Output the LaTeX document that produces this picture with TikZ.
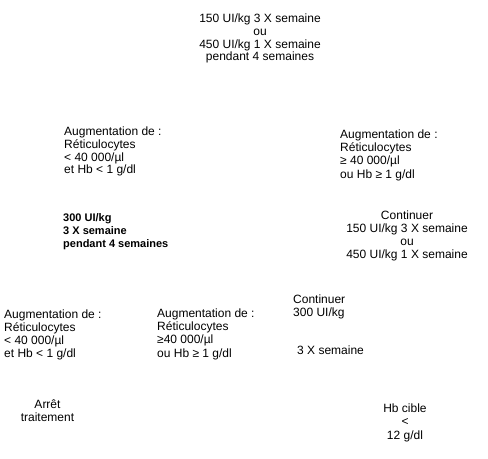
\documentclass[tikz,border=0pt]{standalone}
\usepackage{fontspec}
\setmainfont{Liberation Sans}
\usetikzlibrary{positioning}
\tikzset{
    %Define style for text blocks
    annot/.style={
           inner sep=0pt,
           font=\fontsize{12bp}{12.8bp}\selectfont,
           align=left,
           anchor=base west},
    annotc/.style={
           annot,
           align=center,
           anchor=base},
    dose/.style={
           annot,
           font=\fontsize{11bp}{12.5bp}\selectfont\bfseries}
}
\begin{document}
\begin{tikzpicture}[x=1bp,y=-1bp]
  \useasboundingbox (0,0) rectangle (488,459);

  \node[annotc] (dose-init) at (260,61)
    {150 UI/kg 3 X semaine\\ou\\450 UI/kg 1 X semaine\\pendant 4 semaines};

  \node[annot] (aug-low-a) at (64,174)
    {Augmentation de :\\Réticulocytes\\< 40 000/µl\\et Hb < 1 g/dl};

  \node[annot] (aug-high-a) at (340,179)
    {Augmentation de :\\Réticulocytes\\≥ 40 000/µl\\[2bp]ou Hb ≥ 1 g/dl};

  \node[dose] (dose-300) at (63,247)
    {300 UI/kg\\3 X semaine\\pendant 4 semaines};

  \node[annotc] (cont-150) at (407,258)
    {Continuer\\150 UI/kg 3 X semaine\\ou\\450 UI/kg 1 X semaine};

  \node[annot] (aug-low-b) at (4,357)
    {Augmentation de :\\Réticulocytes\\< 40 000/µl\\et Hb < 1 g/dl};

  \node[annot] (aug-high-b) at (157,357)
    {Augmentation de :\\Réticulocytes\\≥40 000/µl\\[1bp]ou Hb ≥ 1 g/dl};

  \node[annot] (cont-300) at (293,316) {Continuer\\300 UI/kg};
  \node[annot] (freq-3x) at (297,354) {3 X semaine};

  \node[annotc] (arret) at (47.5,421) {Arrêt\\traitement};

  \node[annotc] (hb-cible) at (405,439) {Hb cible\\<\\[1bp]12 g/dl};
\end{tikzpicture}
\end{document}
